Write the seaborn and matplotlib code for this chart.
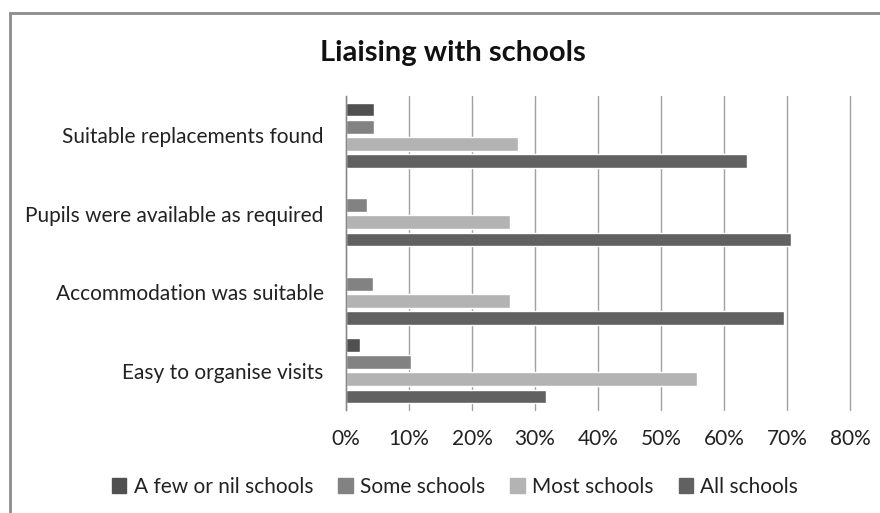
import matplotlib
matplotlib.use("Agg")
import matplotlib.pyplot as plt
from matplotlib import font_manager
from matplotlib.patches import Rectangle
from matplotlib.ticker import MultipleLocator, PercentFormatter
import pandas as pd
import seaborn as sns

# Survey categories (top to bottom) and response levels
categories = [
    "Suitable replacements found",
    "Pupils were available as required",
    "Accommodation was suitable",
    "Easy to organise visits",
]
levels = ["A few or nil schools", "Some schools", "Most schools", "All schools"]

# Share of responses (%) per level, in the order of `categories`
few_or_nil = [4.5, 0.0, 0.0, 2.3]
some = [4.5, 3.4, 4.3, 10.3]
most = [27.3, 26.1, 26.1, 55.7]
all_schools = [63.6, 70.6, 69.6, 31.8]

colors = ["#505050", "#828282", "#b3b3b3", "#616161"]

rows = []
for level, values in zip(levels, [few_or_nil, some, most, all_schools]):
    for cat, v in zip(categories, values):
        rows.append({"category": cat, "level": level, "share": v / 100.0})
df = pd.DataFrame(rows)

sns.set_theme(style="white")


def pick_font(names):
    for name in names:
        try:
            font_manager.findfont(name, fallback_to_default=False)
            return name
        except Exception:
            continue
    return "DejaVu Sans"


family = pick_font(["Lato", "Open Sans"])
plt.rcParams["font.family"] = [family, "DejaVu Sans"]

W, H = 880, 513
fig = plt.figure(figsize=(W / 100, H / 100), dpi=100)
ax = fig.add_axes([346 / W, 1 - 410 / H, (850 - 346) / W, (410 - 96) / H])

sns.barplot(
    data=df, x="share", y="category", hue="level",
    order=categories, hue_order=levels,
    palette=dict(zip(levels, colors)),
    orient="h", width=0.87, gap=0.2, saturation=1,
    ax=ax, legend=False,
)

ax.set_xlim(0, 0.8)
ax.xaxis.set_major_locator(MultipleLocator(0.1))
ax.xaxis.set_major_formatter(PercentFormatter(1.0, decimals=0))
ax.grid(axis="x", color="#a0a0a0", linewidth=1)
ax.grid(axis="y", visible=False)
ax.set_axisbelow(True)
for side in ["top", "right", "bottom"]:
    ax.spines[side].set_visible(False)
ax.spines["left"].set_color("#868686")
ax.spines["left"].set_linewidth(1)
ax.set_xlabel("")
ax.set_ylabel("")
ax.tick_params(axis="x", length=0, pad=14, labelsize=15, labelcolor="#222222")
ax.tick_params(axis="y", length=0, pad=16, labelsize=15, labelcolor="#222222")
for gl in ax.get_xgridlines():
    gl.set_clip_on(False)

fig.text(453 / W, 1 - 53 / H, "Liaising with schools", ha="center", va="center",
         fontsize=21, fontweight="bold", color="#111111")

handles = [Rectangle((0, 0), 1, 1, color=c) for c in colors]
fig.legend(handles, levels, loc="center", bbox_to_anchor=(455 / W, 1 - 487 / H),
           ncol=4, frameon=False, fontsize=15, handlelength=0.7, handleheight=0.7,
           handletextpad=0.35, columnspacing=1.2, labelcolor="#222222")

# Chart frame (left and top edges visible, the rest runs off the canvas)
fig.patches.append(Rectangle((9.5 / W, -0.2), 1.5, 1.2 - 12.5 / H,
                             transform=fig.transFigure, fill=False,
                             edgecolor="#8c8c8c", linewidth=2))

fig.savefig("out.png", dpi=100)
